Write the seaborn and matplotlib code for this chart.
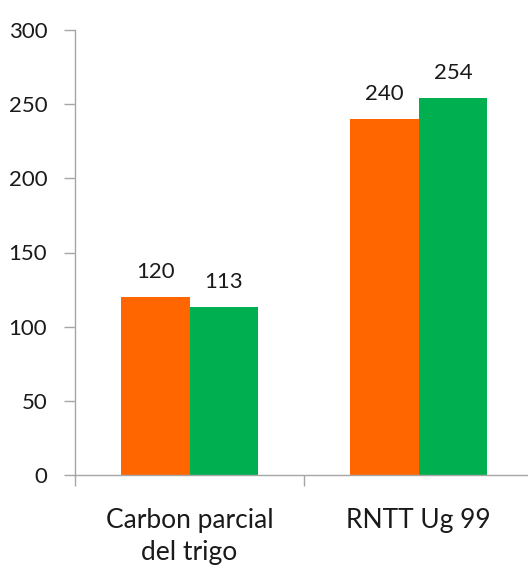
import pandas as pd
import matplotlib.pyplot as plt
import seaborn as sns

categorias = ["Carbon parcial\ndel trigo", "RNTT Ug 99"]
serie_1 = [120, 240]
serie_2 = [113, 254]
series = ["Serie 1", "Serie 2"]
colores = ["#FF6600", "#00B050"]

df = pd.DataFrame({
    "categoria": categorias * 2,
    "valor": serie_1 + serie_2,
    "serie": [series[0]] * 2 + [series[1]] * 2,
})

sns.set_style("white")
plt.rcParams["font.family"] = ["Lato", "DejaVu Sans"]

fig = plt.figure(figsize=(5.28, 5.68), dpi=100)
ax = fig.add_axes([75 / 528, 93 / 568, 458 / 528, 445 / 568])

sns.barplot(data=df, x="categoria", y="valor", hue="serie", palette=colores,
            width=0.6, gap=0, saturation=1, legend=False, linewidth=0, ax=ax)

for cont in ax.containers:
    ax.bar_label(cont, padding=11, fontsize=16, color="#1a1a1a")

ax.set_xlim(-0.5, 1.5)
ax.set_ylim(0, 300)
ax.set_yticks(range(0, 301, 50))
ax.set_xlabel("")
ax.set_ylabel("")

ax.set_xticks([-0.5, 0.5, 1.5], minor=True)
ax.tick_params(axis="x", which="major", length=0, pad=24, labelsize=19, labelcolor="#1a1a1a")
ax.tick_params(axis="x", which="minor", length=8, width=1, color="#A6A6A6", direction="out", bottom=True)
ax.tick_params(axis="y", length=8, width=1, color="#A6A6A6", direction="out", left=True,
               pad=12, labelsize=16, labelcolor="#1a1a1a")
for lbl in ax.get_xticklabels():
    lbl.set_linespacing(1.35)

for s in ["top", "right"]:
    ax.spines[s].set_visible(False)
for s in ["left", "bottom"]:
    ax.spines[s].set_color("#A6A6A6")
    ax.spines[s].set_linewidth(1)

fig.savefig("out.png", dpi=100)
